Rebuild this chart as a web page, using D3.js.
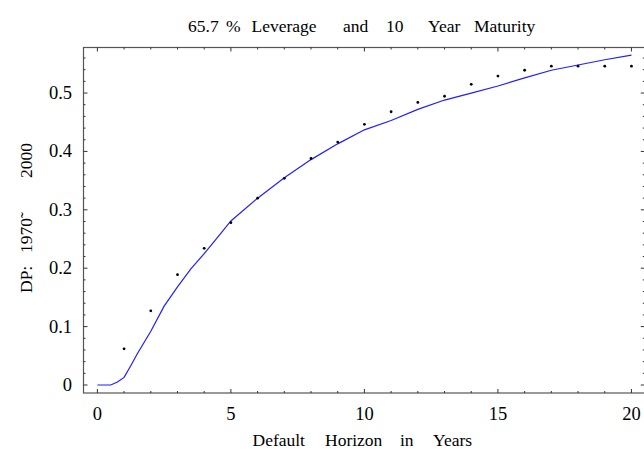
<!DOCTYPE html>
<meta charset="utf-8">
<script src="https://d3js.org/d3.v7.min.js"></script>
<style>
body { margin: 0; background: #fff; }
</style>
<div id="chart"></div>
<script>
// observed default probabilities (dots), one per year
var years = d3.range(0, 21);
var observed = [null, 0.062, 0.127, 0.189, 0.234, 0.278, 0.320, 0.354, 0.388, 0.416,
  0.4465, 0.468, 0.484, 0.4945, 0.515, 0.529, 0.539, 0.546, 0.546, 0.546, 0.546];

// model curve (blue line)
var modelX = [0, 0.5, 0.75, 1, 1.25, 1.5, 2, 2.5, 3, 3.5, 4, 4.5, 5, 6, 7, 8, 9, 10,
  11, 12, 13, 14, 15, 16, 17, 18, 19, 20];
var modelY = [0, 0, 0.005, 0.013, 0.033, 0.054, 0.092, 0.135, 0.168, 0.199, 0.225, 0.253, 0.281,
  0.320, 0.355, 0.386, 0.413, 0.437, 0.453, 0.472, 0.488, 0.500, 0.512, 0.526, 0.539,
  0.548, 0.557, 0.565];

var xTicks = [0, 5, 10, 15, 20];
var yTicks = [0, 0.1, 0.2, 0.3, 0.4, 0.5];

var titleWords = [["65.7", 188], ["%", 226], ["Leverage", 251.5], ["and", 343],
  ["10", 386], ["Year", 428], ["Maturity", 474]];
var xLabelWords = [["Default", 252.5], ["Horizon", 325], ["in", 400], ["Years", 433]];
var yLabelWords = [["DP:", 293], ["1970\u0303", 253], ["2000", 178]];

var font = "'Liberation Serif', Tinos, 'Times New Roman', 'Nimbus Roman', 'DejaVu Serif', serif";
var width = 644, height = 449;
var plot = {left: 83.5, right: 644.8, top: 47.5, bottom: 393};

var svg = d3.select("#chart").append("svg")
  .attr("width", width)
  .attr("height", height)
  .attr("font-family", font);

var x = d3.scaleLinear().domain([-0.52, 20.5]).range([plot.left, plot.right]);
var y = d3.scaleLinear().domain([-0.0137, 0.578]).range([plot.bottom, plot.top]);

// frame
svg.append("rect")
  .attr("x", plot.left).attr("y", plot.top)
  .attr("width", plot.right - plot.left).attr("height", plot.bottom - plot.top)
  .attr("fill", "none").attr("stroke", "#555").attr("stroke-width", 1.2);

// inward ticks on all four sides
var g = svg.append("g").attr("stroke", "#333").attr("stroke-width", 1);
d3.range(0, 21).forEach(function(v) {
  var len = v % 5 === 0 ? 4 : 2;
  g.append("line").attr("x1", x(v)).attr("x2", x(v)).attr("y1", plot.bottom).attr("y2", plot.bottom - len);
  g.append("line").attr("x1", x(v)).attr("x2", x(v)).attr("y1", plot.top).attr("y2", plot.top + len);
});
d3.range(0, 29).forEach(function(i) {
  var v = i * 0.02;
  var len = i % 5 === 0 ? 4 : 2;
  g.append("line").attr("y1", y(v)).attr("y2", y(v)).attr("x1", plot.left).attr("x2", plot.left + len);
  g.append("line").attr("y1", y(v)).attr("y2", y(v)).attr("x1", plot.right).attr("x2", plot.right - len);
});

// tick labels
svg.selectAll(".xt").data(xTicks).enter().append("text")
  .attr("x", function(d) { return x(d); })
  .attr("y", 420)
  .attr("text-anchor", "middle")
  .attr("font-family", font)
  .attr("font-size", 18.5)
  .text(function(d) { return d; });

svg.selectAll(".yt").data(yTicks).enter().append("text")
  .attr("x", 72)
  .attr("y", function(d) { return y(d) + 6; })
  .attr("text-anchor", "end")
  .attr("font-family", font)
  .attr("font-size", 18.5)
  .text(function(d) { return d; });

// model line
var line = d3.line()
  .x(function(d, i) { return x(modelX[i]); })
  .y(function(d) { return y(d); });
svg.append("path")
  .datum(modelY)
  .attr("d", line)
  .attr("fill", "none")
  .attr("stroke", "#1f1fff")
  .attr("stroke-width", 1.2);

// observed dots
svg.selectAll(".dot")
  .data(years.filter(function(d) { return observed[d] !== null; }))
  .enter().append("circle")
  .attr("cx", function(d) { return x(d); })
  .attr("cy", function(d) { return y(observed[d]); })
  .attr("r", 1.4)
  .attr("fill", "#000");

// title
var t = svg.append("text").attr("y", 32)
  .attr("font-family", font).attr("font-size", 17.5);
titleWords.forEach(function(w) { t.append("tspan").attr("x", w[1]).text(w[0]); });

// x label
var xl = svg.append("text").attr("y", 446)
  .attr("font-family", font).attr("font-size", 17.5);
xLabelWords.forEach(function(w) { xl.append("tspan").attr("x", w[1]).text(w[0]); });

// y label (rotated)
var yl = svg.append("text")
  .attr("transform", "translate(31.5,0) rotate(-90)")
  .attr("font-family", font).attr("font-size", 17.5);
yLabelWords.forEach(function(w) { yl.append("tspan").attr("x", -w[1]).attr("y", 0).text(w[0]); });
</script>
